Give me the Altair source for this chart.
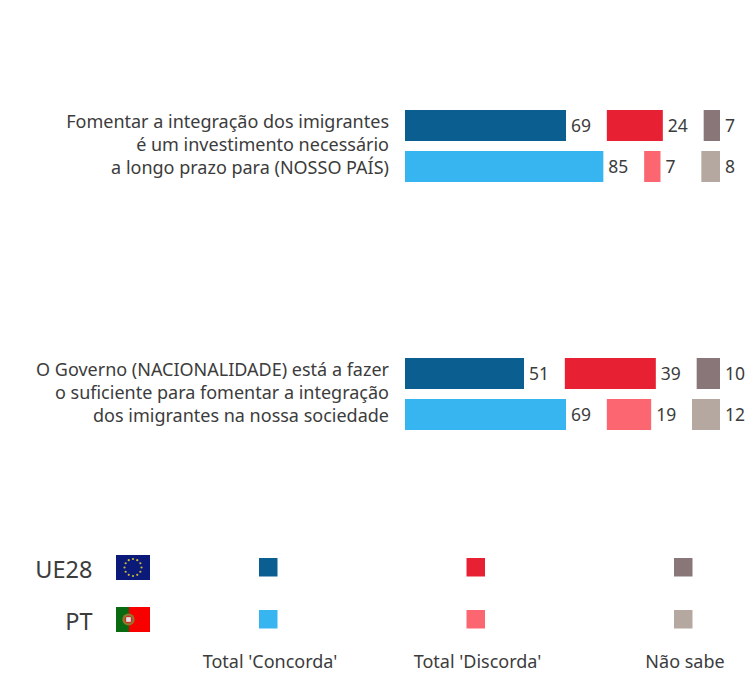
import math
import altair as alt
import pandas as pd

# ---- data
questions = [
    "Fomentar a integração dos imigrantes\né um investimento necessário\na longo prazo para (NOSSO PAÍS)",
    "O Governo (NACIONALIDADE) está a fazer\no suficiente para fomentar a integração\ndos imigrantes na nossa sociedade",
]
regions = ["UE28", "PT"]
agree = [69, 85, 51, 69]
disagree = [24, 7, 39, 19]
dont_know = [7, 8, 10, 12]
answers = ["Total 'Concorda'", "Total 'Discorda'", "Não sabe"]

# ---- layout and style
FONT = "Noto Sans"
INK = "#3c3c3c"
COLORS = {
    "UE28": ["#0b5f90", "#e82033", "#887678"],
    "PT": ["#36b5f0", "#fb6671", "#b5a8a0"],
}
W, H = 738, 668
OX = 8
OY = 8
X0 = 405 - OX
UNIT = 7 / 3
GAP = 17.5
ROW_Y = [125.5 - OY, 166.5 - OY, 373.5 - OY, 414.5 - OY]
Q_Y = [123 - OY, 371 - OY]
BAR_H = 31

x_scale = alt.Scale(domain=[0, 100], range=[X0, X0 + 100 * UNIT], nice=False)
y_scale = alt.Scale(domain=[0, H], range=[0, H], nice=False, zero=False, padding=0)

rows = []
for i in range(4):
    region = regions[i % 2]
    start = 0
    for j, v in enumerate((agree[i], disagree[i], dont_know[i])):
        rows.append({"pos": ROW_Y[i], "start": start, "end": start + v, "value": v,
                     "color": COLORS[region][j]})
        start += v + GAP
bars_df = pd.DataFrame(rows)

bars = alt.Chart(bars_df).mark_bar(height=BAR_H, cornerRadius=0).encode(
    x=alt.X("start:Q", scale=x_scale, axis=None),
    x2="end:Q",
    y=alt.Y("pos:Q", scale=y_scale, axis=None),
    color=alt.Color("color:N", scale=None),
)
values = alt.Chart(bars_df).mark_text(
    align="left", baseline="middle", dx=5, dy=1, font=FONT, fontSize=17.5, color=INK
).encode(
    x=alt.X("end:Q", scale=x_scale, axis=None),
    y=alt.Y("pos:Q", scale=y_scale, axis=None),
    text="value:Q",
)
q_df = pd.DataFrame({"q": questions, "pos": Q_Y})
q_text = alt.Chart(q_df).mark_text(
    align="right", baseline="middle", font=FONT, fontSize=18, lineHeight=23,
    lineBreak="\n", color=INK,
).encode(
    x=alt.value(389 - OX),
    y=alt.Y("pos:Q", scale=y_scale, axis=None),
    text="q:N",
)

layers = [bars, values, q_text]
one = alt.Data(values=[{"a": 1}])


def box(x1, x2, y1, y2, color):
    return alt.Chart(one).mark_rect(color=color).encode(
        x=alt.value(x1 - OX), x2=alt.value(x2 - OX),
        y=alt.value(y1 - OY), y2=alt.value(y2 - OY),
    )


def label(text, x, y, size, align):
    return alt.Chart(one).mark_text(
        text=text, align=align, baseline="middle", font=FONT, fontSize=size, color=INK
    ).encode(x=alt.value(x - OX), y=alt.value(y - OY))


def dot(x, y, size, color, shape="circle"):
    return alt.Chart(one).mark_point(filled=True, shape=shape, size=size, color=color, opacity=1).encode(
        x=alt.value(x - OX), y=alt.value(y - OY))


# legend
LEG_X = [259, 466.5, 674]
LEG_Y = [558, 610]
for r, region in enumerate(regions):
    layers.append(label(region, 92.5, LEG_Y[r] + 12.5, 23.5, "right"))
    for j in range(3):
        layers.append(box(LEG_X[j], LEG_X[j] + 18.5, LEG_Y[r], LEG_Y[r] + 18.5, COLORS[region][j]))
for j, a in enumerate(answers):
    layers.append(label(a, [270, 477.5, 685][j], 663, 18, "center"))

# EU flag
layers.append(box(116, 150, 555, 580, "#0b1a78"))
for k in range(12):
    layers.append(dot(133 + 8.5 * math.sin(k * math.pi / 6),
                      567.5 - 8.5 * math.cos(k * math.pi / 6), 5, "#c9b93a"))

# Portuguese flag
layers.append(box(116, 129, 607, 632, "#0a6a12"))
layers.append(box(129, 150, 607, 632, "#f80000"))
layers.append(dot(128.5, 619.5, 150, "#8f7a2c"))
layers.append(dot(128.5, 619.5, 60, "#c8302c"))
layers.append(dot(128.5, 619.5, 22, "#e4e4e4", "square"))

chart = alt.layer(*layers).resolve_scale(x="independent", y="independent").properties(
    width=W, height=H, padding=0, autosize=alt.AutoSizeParams(type="none")
).configure_view(stroke=None)

chart.save("out.html", embed_options={"renderer": "svg", "actions": False})
